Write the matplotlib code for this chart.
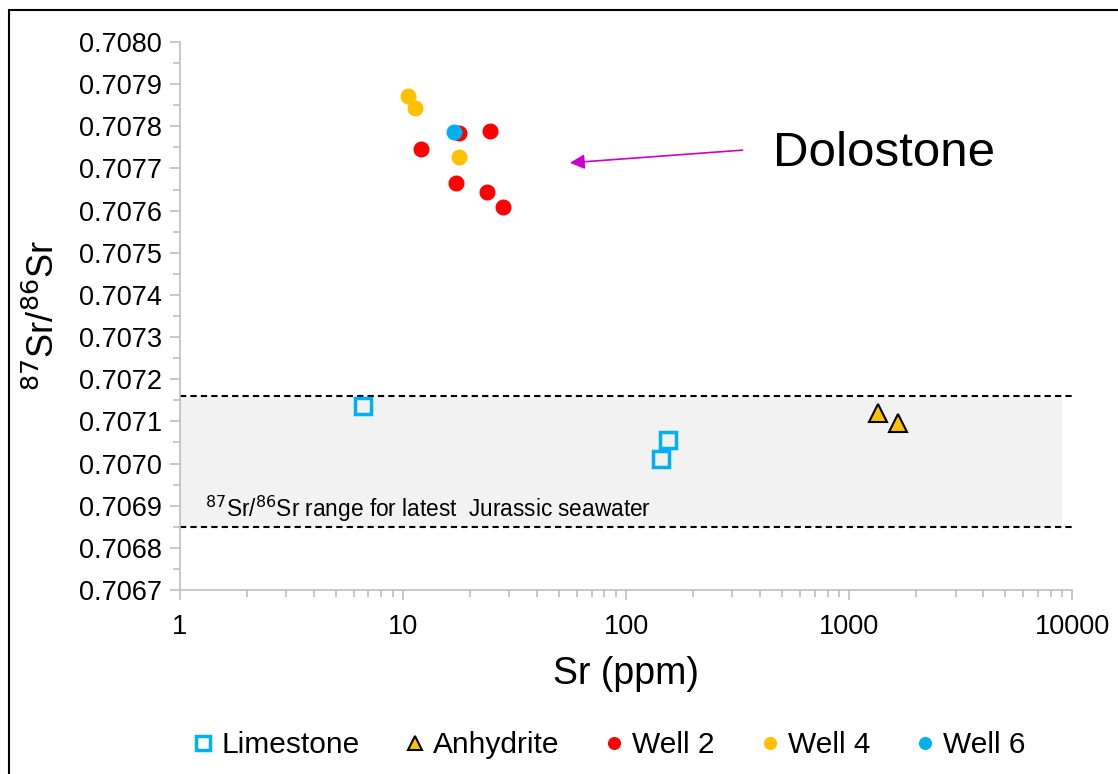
import numpy as np
import matplotlib.pyplot as plt
from matplotlib.ticker import MultipleLocator, FixedLocator, LogLocator, NullFormatter, FuncFormatter
from matplotlib.patches import Rectangle

plt.rcParams['font.family'] = ['Liberation Sans', 'DejaVu Sans']

# data
lime_sr = [6.6, 154, 143.5]
lime_ratio = [0.707136, 0.707056, 0.707011]
anhy_sr = [1349, 1660]
anhy_ratio = [0.707120, 0.707096]
well2_sr = [17.8, 24.5, 12.0, 17.3, 23.8, 28.1]
well2_ratio = [0.707784, 0.707789, 0.707746, 0.707665, 0.707644, 0.707609]
well4_sr = [10.5, 11.3, 17.8]
well4_ratio = [0.707872, 0.707843, 0.707727]
well6_sr = [16.9]
well6_ratio = [0.707786]

sw_low, sw_high = 0.70685, 0.70716
sw_fill_xmax = 9000

c_blue = '#00B0F0'
c_orange = '#FFC000'
c_red = '#FF0000'
axis_gray = '#BFBFBF'

fig = plt.figure(figsize=(11.18, 7.74), dpi=100)
ax = fig.add_axes([0.161, 0.2377, 0.798, 0.708])

# seawater band
ax.fill_between([1, sw_fill_xmax], sw_low, sw_high, color='#F2F2F2', zorder=0, lw=0)
ax.plot([1, 10000], [sw_high, sw_high], ls=(0, (3, 2)), color='black', lw=1.5, zorder=1)
ax.plot([1, 10000], [sw_low, sw_low], ls=(0, (3, 2)), color='black', lw=1.5, zorder=1)
ax.text(1.3, 0.706857, r'$^{87}$Sr/$^{86}$Sr range for latest  Jurassic seawater',
        fontsize=16.3, ha='left', va='bottom', color='black')

ax.plot(lime_sr, lime_ratio, 's', ms=12, mfc='none', mec=c_blue, mew=2.5,
        ls='none', label='Limestone', zorder=3)
ax.plot(anhy_sr, anhy_ratio, '^', ms=13, mfc=c_orange, mec='black', mew=1.5,
        ls='none', label='Anhydrite', zorder=3)
ax.plot(well2_sr, well2_ratio, 'o', ms=10.5, mfc=c_red, mec=c_red,
        ls='none', label='Well 2', zorder=3)
ax.plot(well4_sr, well4_ratio, 'o', ms=10.5, mfc=c_orange, mec=c_orange,
        ls='none', label='Well 4', zorder=3)
ax.plot(well6_sr, well6_ratio, 'o', ms=10.5, mfc=c_blue, mec=c_blue,
        ls='none', label='Well 6', zorder=4)

ax.annotate('', xy=(54.4, 0.707713), xytext=(342, 0.707744),
            arrowprops=dict(arrowstyle='-|>', color='#CC00CC', lw=1.2,
                            mutation_scale=22))
ax.text(456, 0.707735, 'Dolostone', fontsize=35.5, ha='left', va='center')

ax.set_xscale('log')
ax.set_xlim(1, 10000)
ax.set_ylim(0.7067, 0.7080)
ax.yaxis.set_major_locator(MultipleLocator(0.0001))
ax.yaxis.set_minor_locator(MultipleLocator(0.00005))
ax.yaxis.set_major_formatter(FuncFormatter(lambda v, p: f'{v:.4f}'))
ax.xaxis.set_major_locator(FixedLocator([1, 10, 100, 1000, 10000]))
ax.xaxis.set_major_formatter(FuncFormatter(lambda v, p: f'{v:.0f}'))
ax.xaxis.set_minor_locator(LogLocator(base=10, subs=np.arange(2, 10)))
ax.xaxis.set_minor_formatter(NullFormatter())

for s in ['top', 'right']:
    ax.spines[s].set_visible(False)
for s in ['left', 'bottom']:
    ax.spines[s].set_color(axis_gray)
    ax.spines[s].set_linewidth(1.2)
ax.tick_params(which='both', direction='out', color=axis_gray, width=1.2)
ax.tick_params(which='major', length=7, labelsize=19.5, pad=6)
ax.tick_params(which='minor', length=5)
ax.tick_params(axis='x', which='major', pad=10)

ax.set_xlabel('Sr (ppm)', fontsize=27, labelpad=12)
ax.set_ylabel(r'$^{87}$Sr/$^{86}$Sr', fontsize=26, labelpad=12)

fig.legend(*ax.get_legend_handles_labels(), loc='center', bbox_to_anchor=(0.543, 0.037),
           ncol=5, frameon=False, fontsize=21.5, handletextpad=0.1, columnspacing=1.35,
           handlelength=1.0, markerscale=0.8)

# outer frame of the original picture
fig.patches.append(Rectangle((9 / 1118, -0.1), 1.2, 1.1 - 10 / 774, transform=fig.transFigure,
                             fill=False, edgecolor='black', lw=1.5))

fig.savefig('out.png', dpi=100)
